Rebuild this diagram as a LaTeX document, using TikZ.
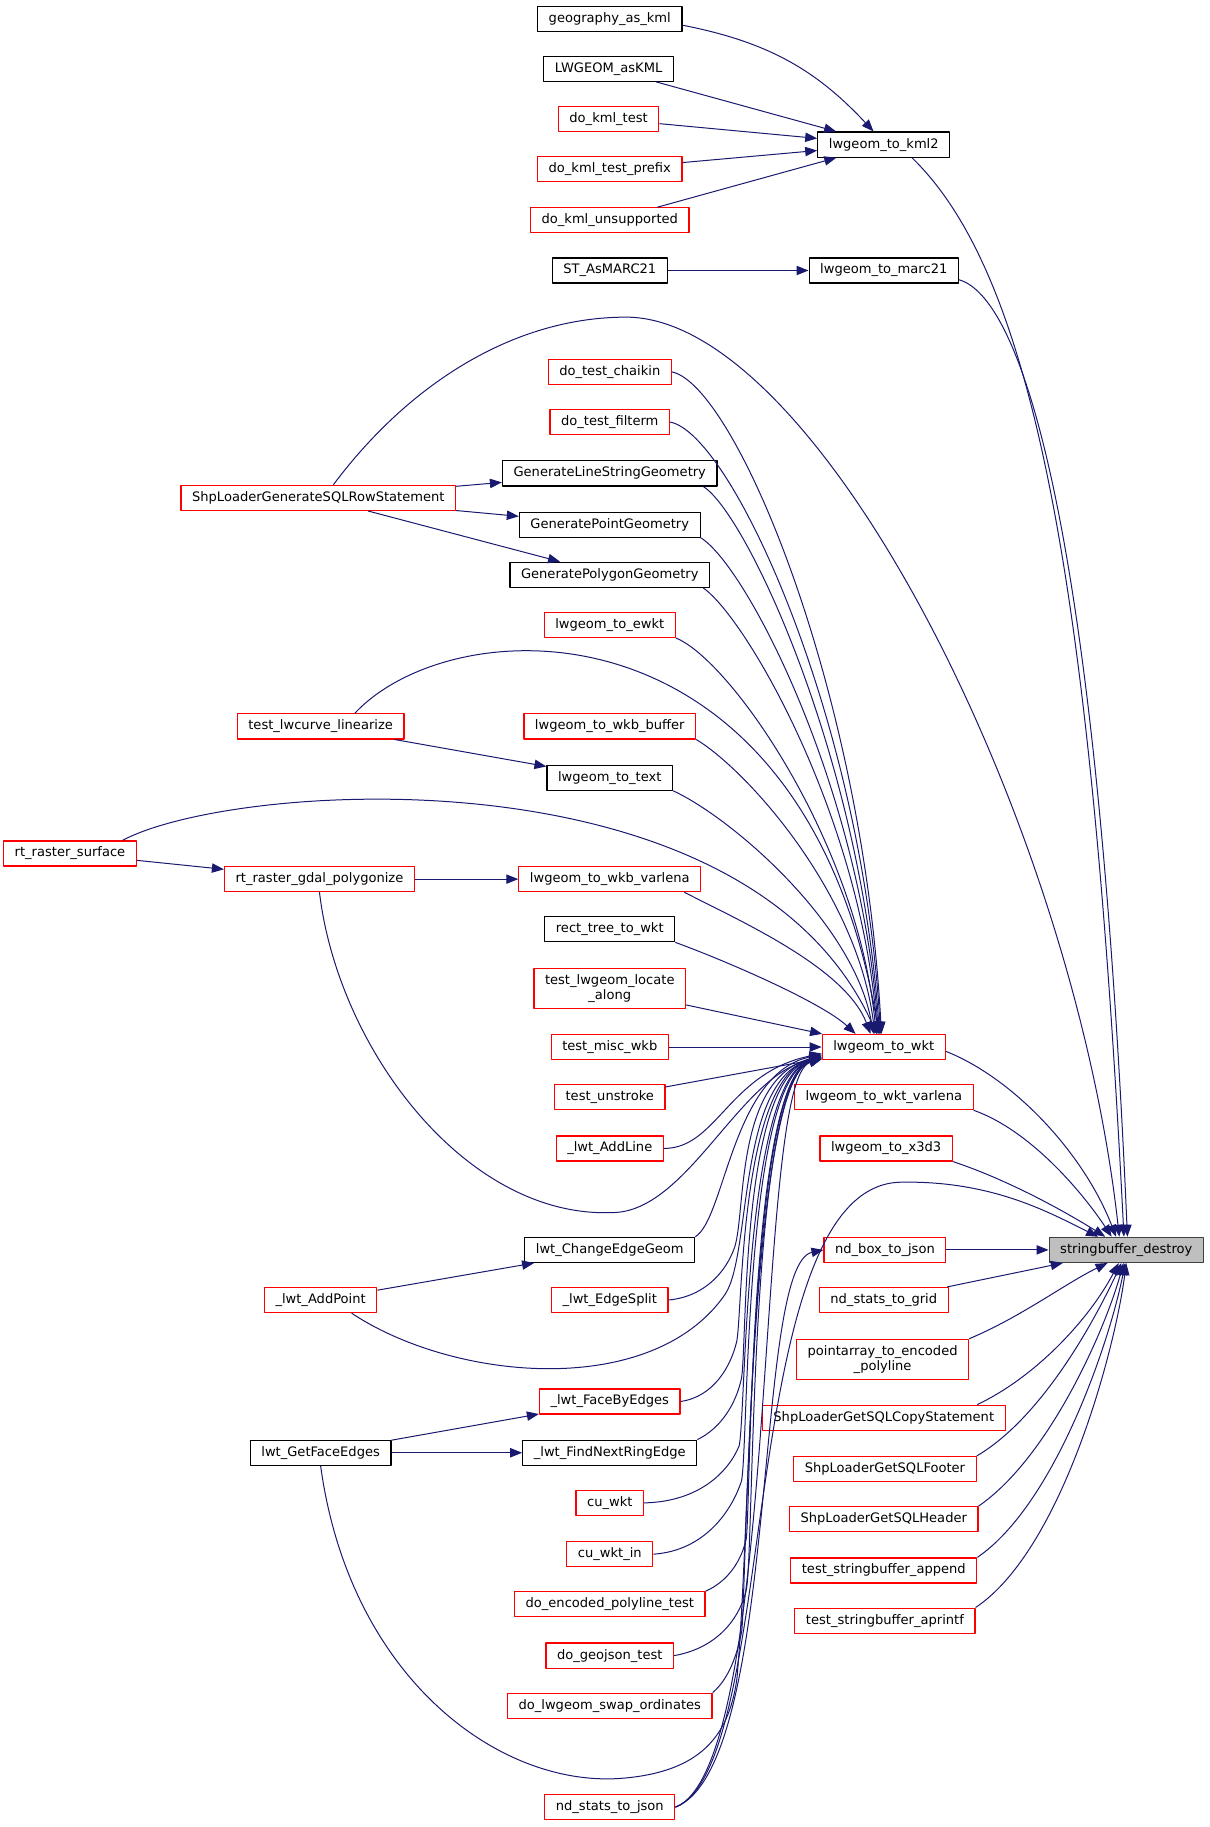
\documentclass[tikz,border=0pt]{standalone}
\usepackage{fontspec}
\setmainfont{DejaVu Sans}
\usetikzlibrary{arrows.meta}
\definecolor{calledge}{HTML}{191970}
\definecolor{focusfill}{HTML}{BFBFBF}
\definecolor{focusrim}{HTML}{404040}

\begin{document}
\begin{tikzpicture}[x=0.8745pt,y=-0.8745pt,join=round,
    fn/.style={draw=red,line width=0.9pt,fill=white,inner xsep=8.3pt,inner ysep=4.5pt,
      minimum height=18.8pt,align=center,font=\fontsize{9.8}{11.5}\selectfont},
    fndoc/.style={fn,draw=black},
    fnfocus/.style={fn,draw=focusrim,fill=focusfill},
    call/.style={draw=calledge,line width=0.75pt,-{Triangle[length=9pt,width=7pt]}}] % callers of stringbuffer_destroy
  \useasboundingbox (0,0) rectangle (1037,1567);
  % left column
  \node[fn] (sqlrow) at (273,427) {ShpLoaderGenerateSQLRowStatement};
  \node[fn] (linearize) at (275,623) {test\_lwcurve\_linearize};
  \node[fn] (rastersurface) at (60,732) {rt\_raster\_surface};
  \node[fn] (polygonize) at (274,754) {rt\_raster\_gdal\_polygonize};
  \node[fn] (addpoint) at (275,1115) {\_lwt\_AddPoint};
  \node[fndoc] (getfaceedges) at (275,1246) {lwt\_GetFaceEdges};
  % middle column
  \node[fndoc] (geo) at (523,16) {geography\_as\_kml};
  \node[fndoc] (askml) at (522,59) {LWGEOM\_asKML};
  \node[fn] (kmltest) at (522,102) {do\_kml\_test};
  \node[fn] (kmlprefix) at (523,145) {do\_kml\_test\_prefix};
  \node[fn] (kmlunsup) at (523,189) {do\_kml\_unsupported};
  \node[fndoc] (asmarc) at (523,232) {ST\_AsMARC21};
  \node[fn] (chaikin) at (523,319) {do\_test\_chaikin};
  \node[fn] (filterm) at (523,362) {do\_test\_filterm};
  \node[fndoc] (genline) at (523,406) {GenerateLineStringGeometry};
  \node[fndoc] (genpoint) at (523,450) {GeneratePointGeometry};
  \node[fndoc] (genpoly) at (523,493) {GeneratePolygonGeometry};
  \node[fn] (ewkt) at (523,536) {lwgeom\_to\_ewkt};
  \node[fn] (wkbbuf) at (523,623) {lwgeom\_to\_wkb\_buffer};
  \node[fndoc] (totext) at (523,667) {lwgeom\_to\_text};
  \node[fn] (wkbvarlena) at (523,754) {lwgeom\_to\_wkb\_varlena};
  \node[fndoc] (recttree) at (523,797) {rect\_tree\_to\_wkt};
  \node[fn] (locate) at (523,848) {test\_lwgeom\_locate\\\_along};
  \node[fn] (miscwkb) at (523,898) {test\_misc\_wkb};
  \node[fn] (unstroke) at (523,941) {test\_unstroke};
  \node[fn] (addline) at (523,985) {\_lwt\_AddLine};
  \node[fndoc] (changeedge) at (523,1072) {lwt\_ChangeEdgeGeom};
  \node[fn] (edgesplit) at (523,1115) {\_lwt\_EdgeSplit};
  \node[fn] (facebyedges) at (523,1202) {\_lwt\_FaceByEdges};
  \node[fndoc] (findnext) at (523,1246) {\_lwt\_FindNextRingEdge};
  \node[fn] (cuwkt) at (523,1289) {cu\_wkt};
  \node[fn] (cuwktin) at (523,1333) {cu\_wkt\_in};
  \node[fn] (encpoly) at (523,1376) {do\_encoded\_polyline\_test};
  \node[fn] (geojson) at (523,1420) {do\_geojson\_test};
  \node[fn] (swap) at (523,1463) {do\_lwgeom\_swap\_ordinates};
  \node[fn] (statsjson) at (523,1550) {nd\_stats\_to\_json};
  % right column
  \node[fndoc] (kml2) at (758,124) {lwgeom\_to\_kml2};
  \node[fndoc] (marc21) at (758,232) {lwgeom\_to\_marc21};
  \node[fn] (wkt) at (758,898) {lwgeom\_to\_wkt};
  \node[fn] (wktvarlena) at (758,941) {lwgeom\_to\_wkt\_varlena};
  \node[fn] (x3d3) at (760,985) {lwgeom\_to\_x3d3};
  \node[fn] (boxjson) at (759,1072) {nd\_box\_to\_json};
  \node[fn] (statsgrid) at (758,1115) {nd\_stats\_to\_grid};
  \node[fn] (pointarray) at (757,1166) {pointarray\_to\_encoded\\\_polyline};
  \node[fn] (copystmt) at (758,1216) {ShpLoaderGetSQLCopyStatement};
  \node[fn] (footer) at (759,1260) {ShpLoaderGetSQLFooter};
  \node[fn] (header) at (758,1303) {ShpLoaderGetSQLHeader};
  \node[fn] (append) at (758,1347) {test\_stringbuffer\_append};
  \node[fn] (aprintf) at (759,1390) {test\_stringbuffer\_aprintf};
  \node[fnfocus] (sb) at (966,1072) {stringbuffer\_destroy};

  % straight calls
  \draw[call] (geo) to[bend left=18] (kml2.128);
  \draw[call] (askml) -- (kml2);
  \draw[call] (kmltest) -- (kml2);
  \draw[call] (kmlprefix) -- (kml2);
  \draw[call] (kmlunsup) -- (kml2);
  \draw[call] (asmarc) -- (marc21);
  \draw[call] (sqlrow) -- (genline);
  \draw[call] (sqlrow) -- (genpoint);
  \draw[call] (sqlrow) -- (genpoly);
  \draw[call] (linearize) -- (totext);
  \draw[call] (rastersurface) -- (polygonize);
  \draw[call] (polygonize) -- (wkbvarlena);
  \draw[call] (addpoint) -- (changeedge);
  \draw[call] (getfaceedges) -- (facebyedges);
  \draw[call] (getfaceedges) -- (findnext);
  \draw[call] (locate) -- (wkt);
  \draw[call] (miscwkb) -- (wkt);
  \draw[call] (unstroke) -- (wkt);
  \draw[call] (boxjson) -- (sb);
  \draw[call] (statsgrid) -- (sb);

  % into lwgeom_to_wkt from above
  \draw[call] (chaikin.east) .. controls (630,330) and (740,590) .. (wkt.100);
  \draw[call] (filterm.east) .. controls (628,372) and (740,620) .. (wkt.104);
  \draw[call] (genline.-8) .. controls (640,440) and (738,650) .. (wkt.108);
  \draw[call] (genpoint.south east) .. controls (640,485) and (738,675) .. (wkt.112);
  \draw[call] (genpoly.-8) .. controls (640,530) and (738,700) .. (wkt.116);
  \draw[call] (ewkt.south east) .. controls (625,565) and (735,720) .. (wkt.120);
  \draw[call] (linearize.21) .. controls (390,520) and (690,510) .. (wkt.110);
  \draw[call] (wkbbuf.south east) .. controls (640,660) and (735,765) .. (wkt.124);
  \draw[call] (totext.south east) .. controls (625,700) and (732,790) .. (wkt.128);
  \draw[call] (rastersurface.14) .. controls (200,670) and (640,640) .. (wkt.118);
  \draw[call] (wkbvarlena.-10) .. controls (635,790) and (725,830) .. (wkt.135);
  \draw[call] (recttree.south east) .. controls (625,825) and (705,860) .. (wkt.155);

  % into lwgeom_to_wkt from below
  \draw[call] (addline.east) .. controls (615,985) and (625,920) .. (wkt.186);
  \draw[call] (polygonize.south) .. controls (290,900) and (400,1045) .. (525,1040)
    .. controls (590,1040) and (635,920) .. (wkt.190);
  \draw[call] (changeedge.north east) .. controls (622,1045) and (628,920) .. (wkt.187);
  \draw[call] (edgesplit.east) .. controls (605,1112) and (623,1090) .. (630,1070)
    .. controls (640,1040) and (630,925) .. (wkt.188);
  \draw[call] (addpoint.-23) .. controls (390,1185) and (560,1200) .. (622,1110)
    .. controls (645,1075) and (632,925) .. (wkt.189);
  \draw[call] (facebyedges.east) .. controls (612,1198) and (627,1172) .. (632,1150)
    .. controls (637,1120) and (635,925) .. (wkt.188);
  \draw[call] (findnext.north east) .. controls (618,1225) and (631,1205) .. (636,1182)
    .. controls (641,1150) and (635,925) .. (wkt.189);
  \draw[call] (cuwkt.east) .. controls (600,1288) and (625,1262) .. (634,1240)
    .. controls (640,1210) and (638,925) .. (wkt.189);
  \draw[call] (cuwktin.east) .. controls (605,1330) and (628,1295) .. (636,1270)
    .. controls (642,1240) and (638,925) .. (wkt.190);
  \draw[call] (encpoly.north east) .. controls (625,1356) and (636,1338) .. (640,1320)
    .. controls (644,1295) and (642,925) .. (wkt.190);
  \draw[call] (geojson.east) .. controls (612,1414) and (633,1392) .. (640,1364)
    .. controls (647,1335) and (642,925) .. (wkt.191);
  \draw[call] (swap.north east) .. controls (625,1440) and (632,1420) .. (636,1400)
    .. controls (640,1380) and (642,925) .. (wkt.191);
  \draw[call] (getfaceedges.south) .. controls (300,1440) and (430,1535) .. (536,1525)
    .. controls (600,1519) and (625,1490) .. (632,1440)
    .. controls (645,1300) and (642,925) .. (wkt.190);
  \draw[call] (statsjson.east) .. controls (670,1515) and (646,925) .. (wkt.191);
  \draw[call] (statsjson.east) .. controls (670,1515) and (645,1085) .. (boxjson.west);

  % into stringbuffer_destroy
  \draw[call] (kml2.-25) .. controls (885,235) and (935,490) .. (sb.100);
  \draw[call] (marc21.-7) .. controls (875,255) and (940,440) .. (sb.85);
  \draw[call] (sqlrow.41) .. controls (350,330) and (440,272) .. (537,272)
    .. controls (700,272) and (920,700) .. (sb.118);
  \draw[call] (wkt.-4) .. controls (870,925) and (930,990) .. (sb.128);
  \draw[call] (wktvarlena.south east) .. controls (885,970) and (930,1025) .. (sb.138);
  \draw[call] (x3d3.south east) .. controls (865,1012) and (915,1040) .. (sb.148);
  \draw[call] (statsjson.east) .. controls (670,1515) and (630,1020) .. (771,1014)
    .. controls (850,1012) and (900,1040) .. (sb.155);
  \draw[call] (pointarray.north east) .. controls (875,1130) and (915,1100) .. (sb.215);
  \draw[call] (copystmt.8) .. controls (890,1180) and (935,1130) .. (sb.240);
  \draw[call] (footer.north east) .. controls (895,1215) and (940,1130) .. (sb.250);
  \draw[call] (header.north east) .. controls (900,1250) and (948,1140) .. (sb.258);
  \draw[call] (append.north east) .. controls (905,1290) and (952,1150) .. (sb.265);
  \draw[call] (aprintf.north east) .. controls (910,1330) and (956,1160) .. (sb.270);
\end{tikzpicture}
\end{document}
